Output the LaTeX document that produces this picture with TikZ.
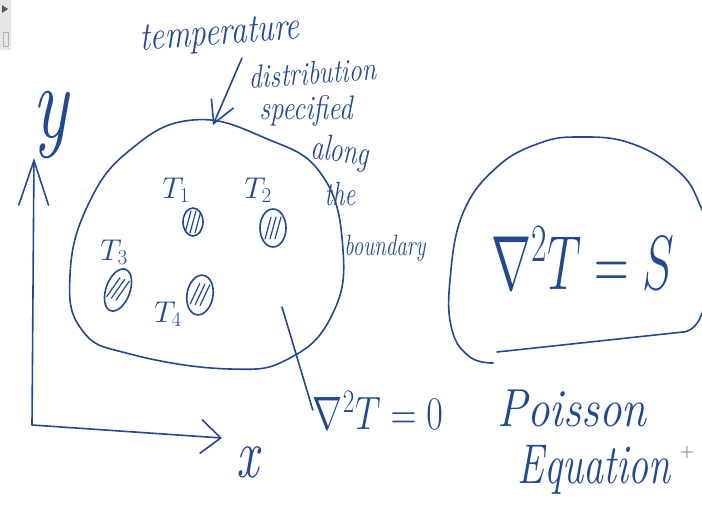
\documentclass[tikz,border=0pt]{standalone}
\usepackage{fix-cm}
\usepackage{fontspec}
\usepackage{amsmath}
\usetikzlibrary{arrows.meta,shapes.geometric}
\definecolor{ink}{RGB}{33,72,145}
\tikzset{
  pen/.style={draw=ink, line width=1.6pt, line cap=round, line join=round},
  word/.style={text=ink, inner sep=0pt},
  hand/.style={word, yscale=1.4},
  hatchcell/.style={ellipse, pen, inner sep=0pt,
    path picture={\foreach \d in {-5,0,5}
      \draw[ink, line width=1.2pt]
        ([shift={(\d pt-3pt,-11pt)}]path picture bounding box.center) --
        ([shift={(\d pt+3pt,11pt)}]path picture bounding box.center);}}
}

\begin{document}
\begin{tikzpicture}[x=1pt,y=-1pt]
\useasboundingbox (0,0) rectangle (702,514);
\clip (0,0) rectangle (702,514);
\fill[gray!20] (0,0) rectangle (11,50);
\fill[gray!70!black] (2,5) -- (8,9) -- (2,13) -- cycle;
\draw[gray!60] (3,32) rectangle (8,46);

% axes
\coordinate (O) at (32,425);
\coordinate (ytip) at (34,158);
\coordinate (xtip) at (222,438);
\draw[pen,{Straight Barb[length=45pt,width=30pt]}-{Straight Barb[length=20pt,width=34pt]}]
  (ytip) -- (O) -- (xtip);
\node[hand,font=\itshape\fontsize{75}{75}\selectfont] (ylab) at (50,125) {y};
\node[hand,font=\itshape\fontsize{50}{50}\selectfont] (xlab) at (248,462) {x};

% domain
\draw[pen] plot[smooth cycle,tension=0.75] coordinates {
  (193,120) (265,138) (322,175) (343,250) (332,315) (290,358) (230,369)
  (130,354) (82,330) (70,275) (88,205) (130,150)};

\node[hatchcell,minimum width=20pt,minimum height=28pt] (c1) at (193,222) {};
\node[hatchcell,minimum width=26pt,minimum height=38pt] (c2) at (273,228) {};
\node[hatchcell,minimum width=24pt,minimum height=44pt,rotate=-20] (c3) at (118,290) {};
\node[hatchcell,minimum width=26pt,minimum height=40pt,rotate=-10] (c4) at (200,295) {};
\node[word,font=\fontsize{30}{30}\selectfont] (t1) at (176,190) {$T_1$};
\node[word,font=\fontsize{30}{30}\selectfont] (t2) at (258,190) {$T_2$};
\node[word,font=\fontsize{30}{30}\selectfont] (t3) at (114,252) {$T_3$};
\node[word,font=\fontsize{30}{30}\selectfont] (t4) at (168,314) {$T_4$};

% boundary note
\node[hand,font=\itshape\fontsize{32}{36}\selectfont,rotate=3,yscale=0.9] (temp) at (220,36) {temperature};
\node[hand,font=\itshape\fontsize{26}{28}\selectfont,rotate=3,yscale=0.9] (dist) at (313,73) {distribution};
\node[hand,font=\itshape\fontsize{27}{28}\selectfont,yscale=0.9] (spec) at (306,111) {specified};
\node[hand,font=\itshape\fontsize{26}{28}\selectfont,rotate=-5] (along) at (340,153) {along};
\node[hand,font=\itshape\fontsize{24}{26}\selectfont] (the) at (340,194) {the};
\node[hand,font=\itshape\fontsize{21}{22}\selectfont] (bdy) at (385,248) {boundary};
\coordinate (tail) at (242,58);
\coordinate (bnd) at (213,125);
\draw[pen,-{Straight Barb[length=22pt,width=24pt]}] (tail) -- (bnd);

% Laplace
\node[word,font=\fontsize{36}{40}\selectfont,yscale=1.3] (lapl0) at (378,410) {$\nabla^2T=0$};
\coordinate (probe) at (282,307);
\draw[pen] (probe) -- (lapl0.west);

% Poisson
\draw[pen] plot[smooth,tension=0.7] coordinates {
  (493,363) (470,357) (452,330) (450,280) (463,213) (497,167) (540,143)
  (580,137) (630,143) (677,170) (700,205) (715,260) (700,318) (683,332)};
\coordinate (rim) at (683,332);
\coordinate (lid) at (497,352);
\draw[pen] (rim) -- (lid);
\node[word,font=\fontsize{48}{56}\selectfont,yscale=1.6] (lapls) at (583,258) {$\nabla^2T=S$};
\node[hand,font=\itshape\fontsize{45}{48}\selectfont,yscale=0.85] (poi) at (572,408) {Poisson};
\node[hand,font=\itshape\fontsize{40}{44}\selectfont] (eqn) at (594,470) {Equation};
\node[text=gray!70!black,inner sep=0pt,font=\fontsize{20}{20}\selectfont] (cur) at (687,453) {+};
\end{tikzpicture}
\end{document}
